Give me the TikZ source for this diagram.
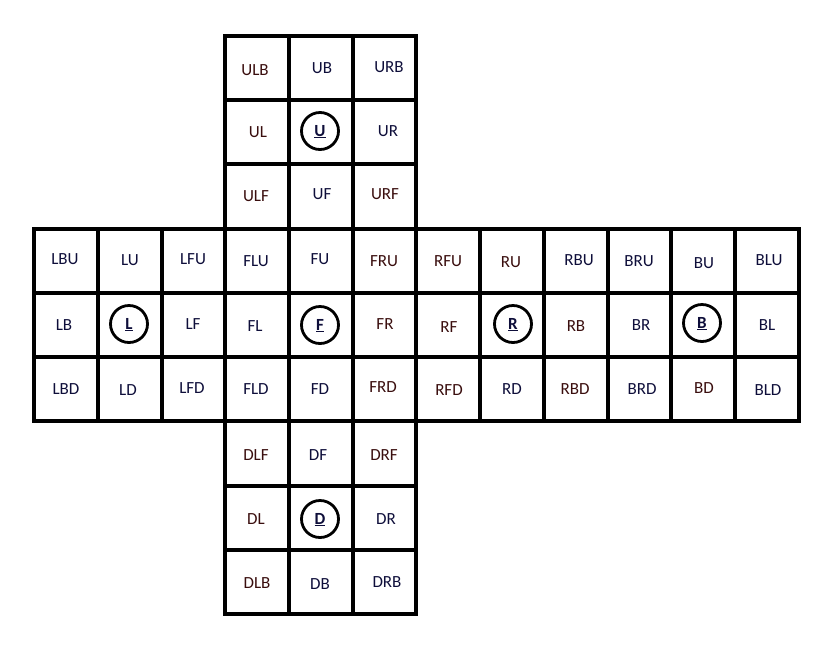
\documentclass[tikz,border=0pt]{standalone}
\usepackage{fontspec}
\setmainfont{Carlito}
\begin{document}
\begin{tikzpicture}[x=1pt,y=-1pt,
  gridline/.style={line width=4pt,line cap=rect,line join=miter},
  lbl/.style={inner sep=0pt,font=\fontsize{17}{19}\selectfont},
  ctr/.style={line width=2.8pt},
  ctrlbl/.style={inner sep=0pt,anchor=base,font=\fontsize{17}{19}\selectfont\bfseries}]
\definecolor{tb}{HTML}{0E0E3A}
\definecolor{tr}{HTML}{3A0E0E}
\useasboundingbox (0,0) rectangle (836,649);
\fill[white] (0,0) rectangle (836,649);
% middle strip
\draw[gridline] (34,229) rectangle (798.7,421.3);
\foreach \x in {97.7,161.5,225.2,288.9,352.6,416.4,480,543.8,607.5,671.2,734.9}
  \draw[gridline] (\x,229) -- (\x,421.3);
\foreach \y in {292.9,357.1}
  \draw[gridline] (34,\y) -- (798.7,\y);
% top face
\draw[gridline] (225.2,36) rectangle (416.4,229);
\foreach \x in {288.9,352.6} \draw[gridline] (\x,36) -- (\x,229);
\foreach \y in {100.2,164.4} \draw[gridline] (225.2,\y) -- (416.4,\y);
% bottom face
\draw[gridline] (225.2,421.3) rectangle (416.4,614);
\foreach \x in {288.9,352.6} \draw[gridline] (\x,421.3) -- (\x,614);
\foreach \y in {485.6,549.8} \draw[gridline] (225.2,\y) -- (416.4,\y);
% labels
\foreach \px/\py/\t/\c in {
  255/70/ULB/tr, 322/68/UB/tb, 389/67/URB/tb,
  258/132/UL/tr, 388/131/UR/tb,
  256/196/ULF/tr, 322/194/UF/tb, 385/194/URF/tr,
  65/259/LBU/tb, 130/260/LU/tb, 193/259/LFU/tb, 256/261/FLU/tb, 320/259/FU/tb, 384/261/FRU/tr,
  448/261/RFU/tr, 511/262/RU/tr, 579/260/RBU/tb, 639/261/BRU/tb, 704/263/BU/tb, 769/260/BLU/tb,
  64/325/LB/tb, 193/324/LF/tb, 255/326/FL/tb, 385/324/FR/tr, 449/327/RF/tr, 576/326/RB/tr,
  641/325/BR/tb, 767/325/BL/tb,
  66/389/LBD/tb, 128/390/LD/tb, 192/388/LFD/tb, 256/389/FLD/tb, 320/389/FD/tb, 383/387/FRD/tr,
  449/390/RFD/tr, 512/389/RD/tb, 575/389/RBD/tr, 642/389/BRD/tb, 704/388/BD/tr, 768/390/BLD/tb,
  256/455/DLF/tr, 318/455/DF/tb, 384/455/DRF/tr,
  256/519/DL/tr, 386/519/DR/tb,
  257/583/DLB/tr, 320/584/DB/tb, 387/582/DRB/tb}
  \node[lbl,text=\c] (n\t) at (\px,\py) {\t};
% centre circles
\foreach \px/\py/\t in {320/131/U, 129/324/L, 320/325/F, 513/324/R, 702/323/B, 320/519/D} {
  \draw[ctr] (\px,\py) circle (18.5);
  \node[ctrlbl,text=tb] (c\t) at (\px,\py+5) {\underline{\t}};
}
\end{tikzpicture}
\end{document}
